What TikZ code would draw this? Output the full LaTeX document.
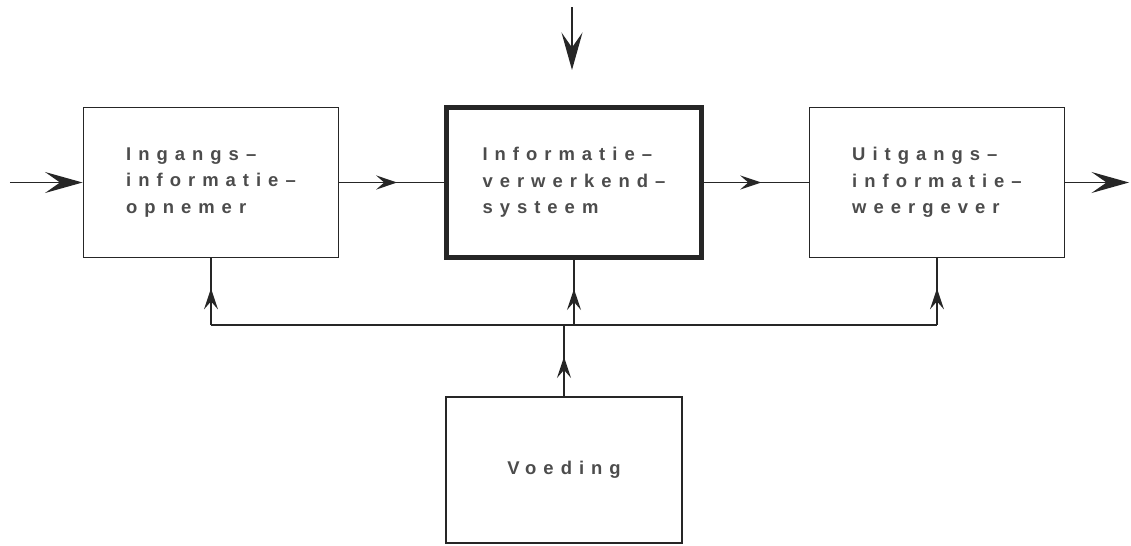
\documentclass[tikz,border=0pt]{standalone}
\usepackage{fontspec}
\usepackage{tikz}
\usetikzlibrary{arrows.meta,positioning,decorations.markings}
\newfontfamily\lblfont[LetterSpace=38]{Liberation Sans Bold}

\begin{document}
\begin{tikzpicture}[
  node distance=2.1cm,
  box/.style={rectangle, draw=black!85, line width=1.1pt, minimum width=5.1cm, minimum height=3cm, align=left, font=\lblfont\fontsize{10.5}{15}\selectfont, text=black!70},
  mainbox/.style={box, line width=2.3pt},
  line/.style={draw=black!85, line width=0.8pt},
  bigarrow/.style={line, -{Stealth[length=0.75cm, width=0.42cm, inset=0.3cm]}},
  midarrow/.style={line, postaction={decorate}, decoration={markings, mark=at position 0.55 with {\arrow{Stealth[length=0.42cm, width=0.28cm, inset=0.16cm]}}}},
]
  \useasboundingbox (0,0) rectangle (22.62,10.9);

  \node[box] (ingang) at (4.22,7.25) {Ingangs–\\informatie–\\opnemer};
  \node[mainbox, right=of ingang] (verwerk) {Informatie–\\verwerkend–\\systeem};
  \node[box, right=of verwerk] (uitgang) {Uitgangs–\\informatie–\\weergever};
  \node[box, minimum width=4.72cm, minimum height=2.92cm] (voeding) at (11.28,1.5) {Voeding};

  % in- en uitgangen
  \coordinate (in) at (0.2,7.25);
  \coordinate (out) at (22.58,7.25);
  \coordinate (top) at (11.44,10.75);
  \coordinate (topend) at (11.44,9.5);
  \coordinate (bus) at (11.44,4.4);

  \draw[bigarrow] (in) -- (ingang.west);
  \draw[bigarrow] (uitgang.east) -- (out);
  \draw[bigarrow] (top) -- (topend);
  \draw[midarrow] (ingang.east) -- (verwerk.west);
  \draw[midarrow] (verwerk.east) -- (uitgang.west);

  % voedingslijnen
  \draw[line] (ingang.south |- bus) -- (uitgang.south |- bus);
  \draw[midarrow] (ingang.south |- bus) -- (ingang.south);
  \draw[midarrow] (verwerk.south |- bus) -- (verwerk.south);
  \draw[midarrow] (uitgang.south |- bus) -- (uitgang.south);
  \draw[midarrow] (voeding.north) -- (voeding.north |- bus);
\end{tikzpicture}
\end{document}
